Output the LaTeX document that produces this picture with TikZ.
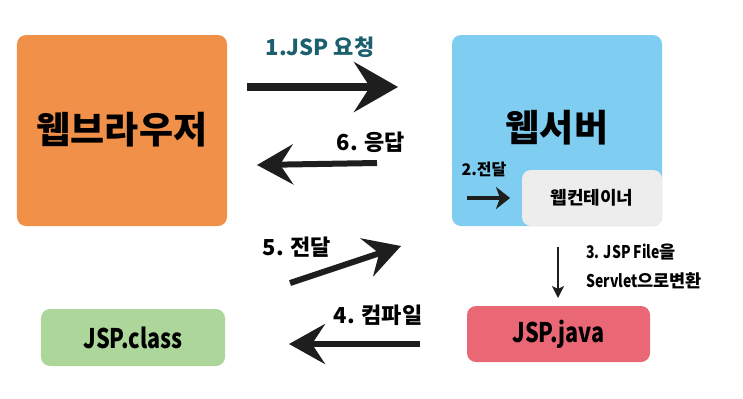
\documentclass[tikz,border=0pt]{standalone}
\usepackage{fontspec}
\setmainfont{Noto Sans CJK KR}
\newfontfamily\condfont[FakeStretch=0.8]{Noto Sans CJK KR}
\usetikzlibrary{positioning, arrows.meta}

\definecolor{browserC}{HTML}{F19149}
\definecolor{serverC}{HTML}{7FCDF1}
\definecolor{containerC}{HTML}{EDEDED}
\definecolor{classC}{HTML}{ADD79A}
\definecolor{javaC}{HTML}{EA6875}
\definecolor{tealC}{HTML}{1C5F6D}
\definecolor{arrowC}{HTML}{1E1E1E}

\begin{document}
\begin{tikzpicture}[x=1bp, y=-1bp, >=Stealth,
    box/.style={rounded corners=9bp, inner sep=0pt, draw=none},
    bigarrow/.style={arrowC, line width=7.5bp, -{Stealth[length=44bp, width=50bp, inset=16bp]}},
    midarrow/.style={arrowC, line width=6bp, -{Stealth[length=36bp, width=40bp, inset=13bp]}},
    smallarrow/.style={arrowC, line width=4bp, -{Stealth[length=14bp, width=22bp, inset=4bp]}},
    thinarrow/.style={arrowC, line width=2bp, -{Stealth[length=12bp, width=12bp, inset=3bp]}},
    step label/.style={font=\bfseries\fontsize{22bp}{24bp}\selectfont, inner sep=0pt}]

    \useasboundingbox (0,0) rectangle (743,398);

    % --- 상자 ---
    \node[box, fill=browserC, minimum width=210bp, minimum height=191bp] (browser) at (122,130.5) {};
    \node[font=\bfseries\fontsize{37bp}{40bp}\selectfont] (browserT) at (122,130) {웹브라우저};
    \node[box, fill=serverC, minimum width=210bp, minimum height=191bp] (server) at (557,130.5) {};
    \node[font=\bfseries\fontsize{37bp}{40bp}\selectfont] (serverT) at (557,128) {웹서버};
    \node[box, fill=containerC, minimum width=140bp, minimum height=56bp,
          font=\bfseries\fontsize{18bp}{20bp}\selectfont] (container) at (592,198) {웹컨테이너};
    \node[box, fill=classC, minimum width=184bp, minimum height=57bp,
          font=\condfont\bfseries\fontsize{27bp}{30bp}\selectfont] (class) at (133,337.5) {JSP.class};
    \node[box, fill=javaC, minimum width=183bp, minimum height=56bp,
          font=\condfont\bfseries\fontsize{27bp}{30bp}\selectfont] (java) at (558.5,334) {JSP.java};

    % --- 화살표 끝점 ---
    \coordinate (req1) at (247,87);    \coordinate (req2) at (398,87);
    \coordinate (res1) at (377,163);   \coordinate (res2) at (257,165);
    \coordinate (fwd1) at (467,198);   \coordinate (fwd2) at (510,198);
    \coordinate (cv1) at (558,247);    \coordinate (cv2) at (558,298);
    \coordinate (cmp1) at (420,344);   \coordinate (cmp2) at (289,344);
    \coordinate (ret1) at (290,283);   \coordinate (ret2) at (401,246);

    % --- 화살표 ---
    \draw[bigarrow] (req1) -- (req2);
    \draw[midarrow] (res1) -- (res2);
    \draw[smallarrow] (fwd1) -- (fwd2);
    \draw[thinarrow] (cv1) -- (cv2);
    \draw[midarrow] (cmp1) -- (cmp2);
    \draw[midarrow] (ret1) -- (ret2);

    % --- 단계 라벨 ---
    \node[step label, text=tealC] (l1) at (320,47) {1.JSP 요청};
    \node[step label, font=\bfseries\fontsize{16bp}{18bp}\selectfont] (l2) at (484,169) {2.전달};
    \node[inner sep=0pt, anchor=west, font=\bfseries\fontsize{17.5bp}{19bp}\selectfont] (l3a) at (586,252) {{\condfont 3. JSP File}을};
    \node[inner sep=0pt, anchor=west, font=\bfseries\fontsize{17.5bp}{19bp}\selectfont] (l3b) at (586,281) {{\condfont Servlet}으로변환};
    \node[step label] (l4) at (378,315) {4. 컴파일};
    \node[step label] (l5) at (297,247) {5. 전달};
    \node[step label] (l6) at (371,142) {6. 응답};

\end{tikzpicture}
\end{document}
